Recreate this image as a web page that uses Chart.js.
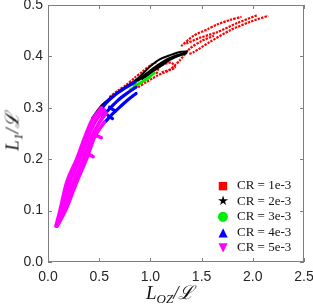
<!DOCTYPE html>
<html><head><meta charset="utf-8">
<script src="https://cdn.jsdelivr.net/npm/chart.js@4/dist/chart.umd.min.js"></script>
<style>
html,body{margin:0;padding:0;background:#fff;}
#wrap{position:relative;width:313px;height:305px;overflow:hidden;}
canvas{position:absolute;left:0;top:0;}
.t{position:absolute;font-family:'Liberation Serif',serif;font-style:italic;color:#111;white-space:nowrap;font-size:19px;line-height:19px;}
.t sub{font-size:13px;vertical-align:-4px;line-height:0;}
#ytitle{left:-14px;top:122px;transform:rotate(-90deg);transform-origin:center;width:52px;text-align:center;}
#xtitle{left:146px;top:283px;}
#legend{position:absolute;left:214px;top:177px;font-family:'Liberation Serif',serif;font-size:13px;color:#111;}
#legend div{height:15.5px;line-height:15.5px;white-space:nowrap;}
#legend span.m{display:inline-block;width:18px;text-align:center;font-family:'DejaVu Sans',sans-serif;margin-right:5px;}
</style></head><body>
<div id="wrap"><canvas id="c" width="313" height="305"></canvas>
<div id="ytitle" class="t">L<sub>1</sub>/ℒ</div>
<div id="xtitle" class="t">L<sub>OZ</sub>/ℒ</div>
<div id="legend"></div>
</div>
<script>
// ---- data ----
const seriesLabels = ['CR = 1e-3','CR = 2e-3','CR = 3e-3','CR = 4e-3','CR = 5e-3'];
const seriesColors = ['#ff0000','#000000','#00ee00','#0000ff','#ff00ff'];
const xTicks = [0,0.5,1.0,1.5,2.0,2.5];
const yTicks = [0,0.1,0.2,0.3,0.4,0.5];

// CR = 1e-3 (red)
const cr1_a = [[0.88,0.340],[0.96,0.350],[1.02,0.357],[1.07,0.363],[1.19,0.374],[1.29,0.393],[1.39,0.416],[1.50,0.430],[1.62,0.440]];
const cr1_b = [[1.30,0.420],[1.42,0.440],[1.56,0.453],[1.65,0.462],[1.78,0.471],[1.89,0.477]];
const cr1_c = [[1.35,0.425],[1.48,0.436],[1.65,0.447],[1.85,0.465],[2.04,0.480]];
const cr1_d = [[1.38,0.405],[1.42,0.408],[1.58,0.428],[1.78,0.451],[1.97,0.467],[2.15,0.479]];
const cr1_e = [[1.06,0.366],[1.09,0.380],[1.20,0.388],[1.24,0.378],[1.11,0.369]];
const cr1_f = [[0.60,0.321],[0.68,0.333],[0.76,0.344],[0.85,0.359],[0.92,0.370],[1.00,0.383],[1.06,0.389]];

// CR = 2e-3 (black)
const cr2_a = [[0.43,0.280],[0.52,0.304],[0.60,0.318],[0.73,0.337],[0.87,0.356],[1.00,0.381],[1.09,0.394],[1.20,0.403],[1.30,0.409],[1.36,0.410]];
const cr2_b = [[0.85,0.350],[0.95,0.365],[1.05,0.380],[1.15,0.393],[1.25,0.402],[1.34,0.407]];
const cr2_c = [[0.92,0.356],[1.00,0.367],[1.10,0.381],[1.20,0.394],[1.30,0.403],[1.35,0.406]];
const cr2_d = [[0.88,0.353],[0.97,0.364],[1.07,0.380],[1.17,0.393],[1.27,0.401],[1.33,0.405]];

// CR = 3e-3 (green)
const cr3_a = [[0.80,0.335],[0.88,0.345],[0.96,0.356],[1.04,0.368]];
const cr3_b = [[0.84,0.343],[0.92,0.351],[1.00,0.360]];

// CR = 4e-3 (blue)
const cr4_a = [[0.50,0.292],[0.57,0.310],[0.66,0.326],[0.75,0.338],[0.85,0.350]];
const cr4_b = [[0.53,0.283],[0.60,0.298],[0.68,0.314],[0.77,0.328],[0.86,0.340]];
const cr4_c = [[0.56,0.273],[0.63,0.288],[0.71,0.303],[0.79,0.317],[0.86,0.328]];
const cr4_d = [[0.57,0.288],[0.60,0.283],[0.63,0.279]];
const cr4_e = [[0.60,0.301],[0.63,0.297],[0.66,0.294]];

// CR = 5e-3 (magenta)
const cr5_a = [[0.078,0.070],[0.117,0.100],[0.18,0.153],[0.28,0.200],[0.36,0.243],[0.43,0.276],[0.52,0.300]];
const cr5_b = [[0.082,0.070],[0.135,0.100],[0.21,0.153],[0.31,0.200],[0.39,0.243],[0.47,0.276],[0.55,0.296]];
const cr5_c = [[0.086,0.070],[0.155,0.100],[0.245,0.153],[0.345,0.200],[0.425,0.243],[0.51,0.274],[0.57,0.290]];
const cr5_d = [[0.090,0.070],[0.170,0.100],[0.275,0.153],[0.375,0.200],[0.455,0.243],[0.55,0.272]];
const cr5_e = [[0.35,0.212],[0.40,0.209],[0.44,0.205]];
const cr5_f = [[0.43,0.246],[0.48,0.245],[0.52,0.242]];

const seriesTracks = [
  [cr1_a,cr1_b,cr1_c,cr1_d,cr1_e,cr1_f],
  [cr2_a,cr2_b,cr2_c,cr2_d],
  [cr3_a,cr3_b],
  [cr4_a,cr4_b,cr4_c,cr4_d,cr4_e],
  [cr5_a,cr5_b,cr5_c,cr5_d,cr5_e,cr5_f]
];
const legendGlyphs = ['■','★','●','▲','▼'];
const lineWidths = [2.2,2.0,2.6,3.2,3.6];

// ---- build datasets ----
const datasets = [];
seriesTracks.forEach((tracks, s) => {
  tracks.forEach(tr => {
    const ds = {
      label: seriesLabels[s],
      data: tr.map(p => ({x:p[0], y:p[1]})),
      showLine: true,
      borderColor: seriesColors[s],
      backgroundColor: seriesColors[s],
      borderWidth: lineWidths[s],
      borderDash: s === 0 ? [2.4,1.1] : [],
      borderCapStyle: s === 0 ? 'butt' : 'round',
      pointRadius: 0,
      order: 4 - s
    };
    if (s === 0) ds.tension = 0.25; else ds.cubicInterpolationMode = 'monotone';
    datasets.push(ds);
  });
});

const frame = {
  id: 'frame',
  afterDraw(chart) {
    const {ctx, chartArea:a, scales} = chart;
    ctx.save();
    ctx.strokeStyle = '#7f7f7f';
    ctx.lineWidth = 1;
    ctx.strokeRect(a.left+0.5, a.top+0.5, a.right-a.left-1, a.bottom-a.top-1);
    ctx.beginPath();
    xTicks.forEach(v => {
      const px = Math.round(scales.x.getPixelForValue(v))+0.5;
      ctx.moveTo(px, a.bottom); ctx.lineTo(px, a.bottom-4);
      ctx.moveTo(px, a.top); ctx.lineTo(px, a.top+4);
    });
    yTicks.forEach(v => {
      const py = Math.round(scales.y.getPixelForValue(v))+0.5;
      ctx.moveTo(a.left, py); ctx.lineTo(a.left+4, py);
      ctx.moveTo(a.right, py); ctx.lineTo(a.right-4, py);
    });
    ctx.stroke();
    ctx.restore();
  }
};

new Chart(document.getElementById('c'), {
  type: 'scatter',
  data: { datasets },
  options: {
    responsive: false,
    devicePixelRatio: 1,
    animation: false,
    layout: { padding: { left: 0, right: 9, top: 5, bottom: 0 } },
    plugins: { legend: { display: false }, tooltip: { enabled: false } },
    scales: {
      x: {
        type: 'linear', min: 0, max: 2.5,
        afterBuildTicks(scale) { scale.ticks = xTicks.map(v => ({value:v})); },
        afterFit(scale) { scale.height = 43; scale.paddingLeft = 0; scale.paddingRight = 0; },
        grid: { display: false, drawTicks: false },
        border: { display: false },
        ticks: { padding: 7, color: '#262626', font: { family: 'Liberation Sans', size: 14 }, callback: v => Number(v).toFixed(1), maxRotation: 0 }
      },
      y: {
        type: 'linear', min: 0, max: 0.5,
        afterBuildTicks(scale) { scale.ticks = yTicks.map(v => ({value:v})); },
        afterFit(scale) { scale.width = 48; scale.paddingTop = 0; scale.paddingBottom = 0; },
        grid: { display: false, drawTicks: false },
        border: { display: false },
        ticks: { padding: 5, color: '#262626', font: { family: 'Liberation Sans', size: 14 }, callback: v => Number(v).toFixed(1) }
      }
    }
  },
  plugins: [frame]
});

const lg = document.getElementById('legend');
const glyphSizes = ['11px','13px','13px','12px','12px'];
seriesLabels.forEach((l, i) => {
  const d = document.createElement('div');
  d.innerHTML = '<span class="m" style="color:'+seriesColors[i]+';font-size:'+glyphSizes[i]+'">'+legendGlyphs[i]+'</span>'+l;
  lg.appendChild(d);
});
</script>
</body></html>
